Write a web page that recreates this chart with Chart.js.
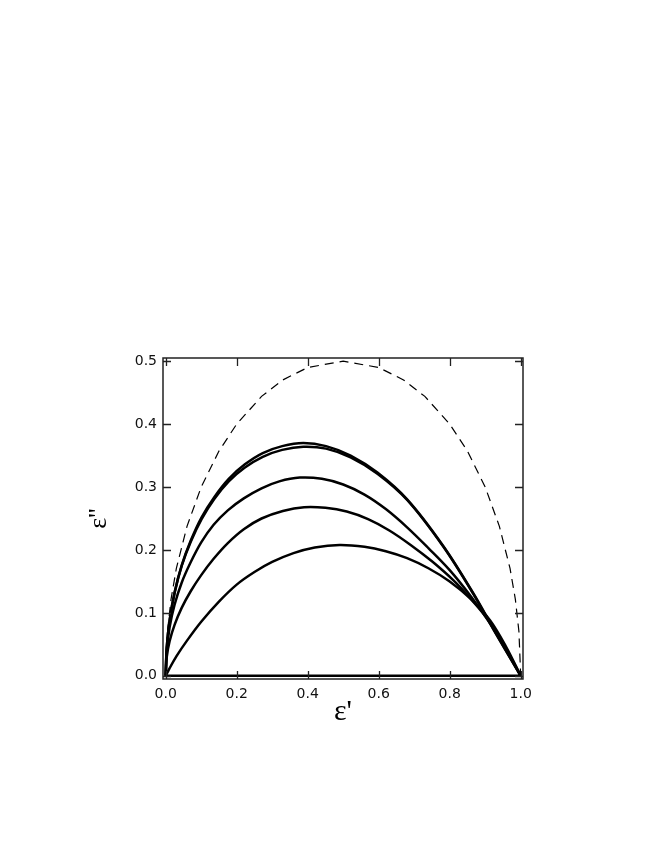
<!DOCTYPE html>
<html>
<head>
<meta charset="utf-8">
<script src="https://cdn.jsdelivr.net/npm/chart.js@4.4.1/dist/chart.umd.min.js"></script>
<style>
  html, body { margin: 0; padding: 0; background: #fff; }
  canvas { display: block; }
</style>
</head>
<body>
<canvas id="cole" width="654" height="846"></canvas>
<script>
  // five solid arcs, eps' / eps'' pairs
  var arcAReal = [0, 0.0029, 0.0114, 0.0256, 0.0453, 0.0706, 0.1011, 0.1368, 0.1776, 0.2231, 0.2734, 0.3282, 0.3876, 0.4517, 0.5209, 0.5964, 0.6808, 0.7823, 0.8656, 0.93, 1];
  var arcAImag = [0, 0.045, 0.090, 0.134, 0.176, 0.215, 0.252, 0.284, 0.313, 0.336, 0.354, 0.365, 0.370, 0.365, 0.350, 0.323, 0.280, 0.206, 0.132, 0.068, 0];
  var arcBReal = arcAReal;
  var arcBImag = [0, 0.045, 0.089, 0.133, 0.175, 0.213, 0.249, 0.281, 0.309, 0.331, 0.348, 0.359, 0.364, 0.361, 0.347, 0.321, 0.279, 0.205, 0.131, 0.067, 0];
  var arcCReal = [0, 0.003, 0.011, 0.025, 0.045, 0.07, 0.1, 0.135, 0.175, 0.22, 0.27, 0.32, 0.378, 0.44, 0.5, 0.56, 0.62, 0.68, 0.74, 0.8, 0.86, 0.914, 0.96, 1];
  var arcCImag = [0, 0.040, 0.077, 0.113, 0.148, 0.180, 0.212, 0.240, 0.263, 0.282, 0.298, 0.309, 0.315, 0.313, 0.304, 0.288, 0.265, 0.236, 0.203, 0.168, 0.126, 0.083, 0.041, 0];
  var arcDReal = [0, 0.003, 0.011, 0.025, 0.045, 0.07, 0.1, 0.135, 0.175, 0.22, 0.27, 0.33, 0.39, 0.45, 0.51, 0.57, 0.63, 0.69, 0.75, 0.81, 0.86, 0.914, 0.96, 1];
  var arcDImag = [0, 0.030, 0.055, 0.081, 0.108, 0.134, 0.160, 0.186, 0.211, 0.233, 0.250, 0.262, 0.268, 0.267, 0.261, 0.249, 0.231, 0.208, 0.182, 0.152, 0.122, 0.085, 0.042, 0];
  var arcEReal = [0, 0.01, 0.03, 0.06, 0.1, 0.15, 0.2, 0.25, 0.3, 0.36, 0.42, 0.49, 0.56, 0.62, 0.68, 0.74, 0.8, 0.86, 0.914, 0.96, 1];
  var arcEImag = [0, 0.011, 0.031, 0.056, 0.086, 0.118, 0.145, 0.165, 0.181, 0.195, 0.204, 0.208, 0.205, 0.198, 0.187, 0.171, 0.150, 0.122, 0.088, 0.045, 0];

  // Debye semicircle (dashed)
  var debyeReal = [0, 0.005, 0.015, 0.03, 0.06, 0.1, 0.15, 0.2, 0.27, 0.33, 0.4, 0.5, 0.6, 0.67, 0.73, 0.8, 0.85, 0.9, 0.94, 0.97, 0.985, 0.995, 1];
  var debyeImag = [0, 0.0705, 0.1216, 0.1706, 0.2375, 0.3, 0.3571, 0.4, 0.444, 0.4702, 0.4899, 0.5, 0.4899, 0.4702, 0.444, 0.4, 0.3571, 0.3, 0.2375, 0.1706, 0.1216, 0.0705, 0];

  var baseReal = [0, 1];
  var baseImag = [0, 0];

  var xTicks = [0, 0.2, 0.4, 0.6, 0.8, 1.0];
  var yTicks = [0, 0.1, 0.2, 0.3, 0.4, 0.5];

  function pairs(xs, ys) {
    return xs.map(function (x, i) { return { x: x, y: ys[i] }; });
  }

  function solid(xs, ys) {
    return {
      data: pairs(xs, ys),
      borderColor: '#000',
      borderWidth: 2.5,
      pointRadius: 0,
      showLine: true,
      tension: 0.35,
    };
  }

  // frame + inward ticks on all four sides
  var frameTicks = {
    id: 'frameTicks',
    afterDatasetsDraw: function (chart) {
      var a = chart.chartArea, ctx = chart.ctx;
      var sx = chart.scales.x, sy = chart.scales.y;
      ctx.save();
      ctx.strokeStyle = '#222';
      ctx.lineWidth = 1.5;
      ctx.strokeRect(a.left, a.top, a.right - a.left, a.bottom - a.top);
      ctx.lineWidth = 1.3;
      ctx.beginPath();
      xTicks.forEach(function (v) {
        var px = Math.round(sx.getPixelForValue(v)) + 0.5;
        ctx.moveTo(px, a.bottom); ctx.lineTo(px, a.bottom - 8);
        ctx.moveTo(px, a.top); ctx.lineTo(px, a.top + 8);
      });
      yTicks.forEach(function (v) {
        var py = Math.round(sy.getPixelForValue(v)) + 0.5;
        ctx.moveTo(a.left, py); ctx.lineTo(a.left + 8, py);
        ctx.moveTo(a.right, py); ctx.lineTo(a.right - 8, py);
      });
      ctx.stroke();
      ctx.restore();
    },
  };

  var tickFont = { family: 'DejaVu Sans', size: 14 };

  new Chart(document.getElementById('cole'), {
    type: 'scatter',
    data: {
      datasets: [
        {
          data: pairs(debyeReal, debyeImag),
          borderColor: '#000',
          borderWidth: 1.2,
          borderDash: [9, 6],
          pointRadius: 0,
          showLine: true,
          tension: 0,
        },
        solid(arcAReal, arcAImag),
        solid(arcBReal, arcBImag),
        solid(arcCReal, arcCImag),
        solid(arcDReal, arcDImag),
        solid(arcEReal, arcEImag),
        {
          data: pairs(baseReal, baseImag),
          borderColor: '#000',
          borderWidth: 2.5,
          pointRadius: 0,
          showLine: true,
        },
      ],
    },
    options: {
      responsive: false,
      animation: false,
      devicePixelRatio: 1,
      layout: { padding: { left: 0, right: 131, top: 358, bottom: 0 } },
      plugins: { legend: { display: false }, tooltip: { enabled: false } },
      scales: {
        x: {
          type: 'linear',
          min: -0.0076,
          max: 1.0065,
          afterBuildTicks: function (s) { s.ticks = xTicks.map(function (v) { return { value: v }; }); },
          afterFit: function (s) { s.height = 167; },
          grid: { display: false, drawTicks: false },
          border: { display: false },
          ticks: {
            color: '#111',
            font: tickFont,
            padding: 7,
            maxRotation: 0,
            callback: function (v) { return Number(v).toFixed(1); },
          },
          title: {
            display: true,
            text: "ε'",
            color: '#000',
            font: { family: 'Liberation Serif', size: 30 },
            padding: { top: 0, bottom: 116 },
          },
        },
        y: {
          type: 'linear',
          min: -0.005,
          max: 0.505,
          afterBuildTicks: function (s) { s.ticks = yTicks.map(function (v) { return { value: v }; }); },
          afterFit: function (s) { s.width = 163; },
          grid: { display: false, drawTicks: false },
          border: { display: false },
          ticks: {
            color: '#111',
            font: tickFont,
            padding: 6,
            callback: function (v) { return Number(v).toFixed(1); },
          },
          title: {
            display: true,
            text: "ε''",
            color: '#000',
            font: { family: 'Liberation Serif', size: 26 },
            padding: { top: 84, bottom: 0 },
          },
        },
      },
    },
    plugins: [frameTicks],
  });
</script>
</body>
</html>
